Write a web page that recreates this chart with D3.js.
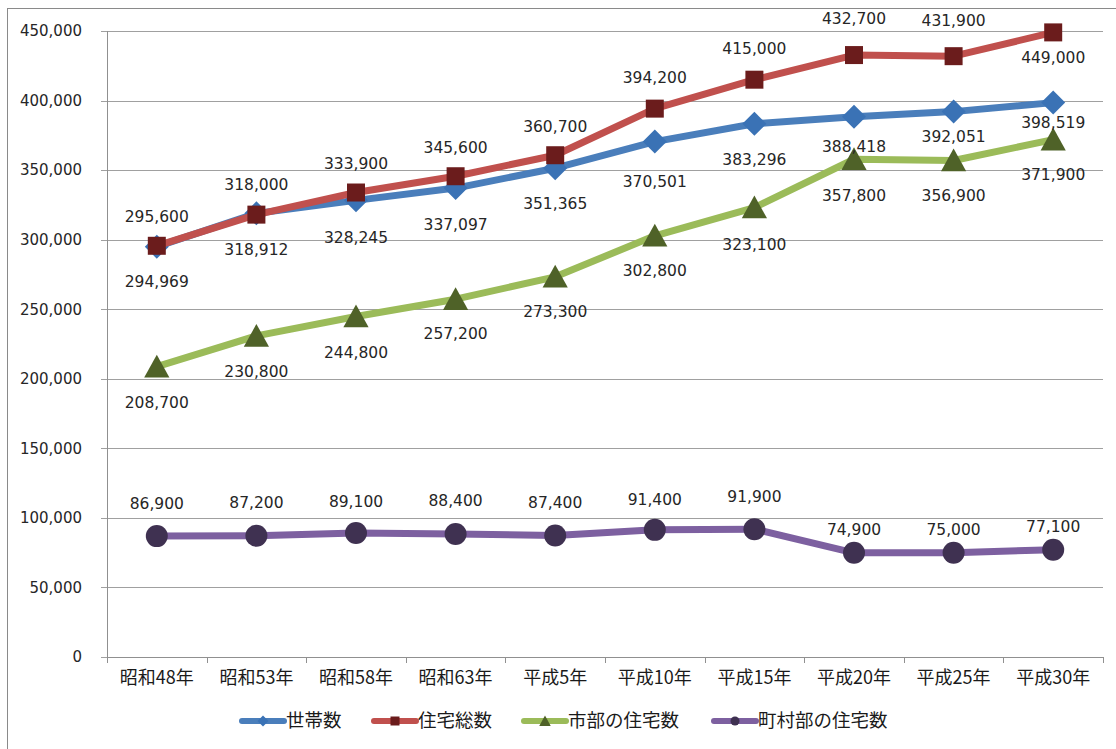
<!DOCTYPE html>
<html><head><meta charset="utf-8">
<script src="https://cdn.jsdelivr.net/npm/d3@7"></script>
<style>
html,body{margin:0;padding:0;background:#fff;}
svg{display:block;}
</style></head>
<body>
<svg id="chart" width="1116" height="749"></svg>
<script>
const categories = ["昭和48年","昭和53年","昭和58年","昭和63年","平成5年","平成10年","平成15年","平成20年","平成25年","平成30年"];
const households = [294969,318912,328245,337097,351365,370501,383296,388418,392051,398519];
const totalHousing = [295600,318000,333900,345600,360700,394200,415000,432700,431900,449000];
const cityHousing = [208700,230800,244800,257200,273300,302800,323100,357800,356900,371900];
const townHousing = [86900,87200,89100,88400,87400,91400,91900,74900,75000,77100];
const seriesNames = ["世帯数","住宅総数","市部の住宅数","町村部の住宅数"];
const yTicks = [0,50000,100000,150000,200000,250000,300000,350000,400000,450000];

// label vertical offsets (px, relative to point) — styling only
const labelOffsets = [
  [35,36,37,37,35,40,36,30,25,20],
  [-29,-30,-29,-29,-29,-31,-31,-36,-36,25],
  [36,36,36,34,35,35,37,36,35,35],
  [-33,-33,-31,-33,-33,-30,-33,-23,-23,-23]
];

const svg = d3.select("#chart");
const pLeft = 107, pRight = 1103, pTop = 31, pBottom = 657;
const x = d3.scaleBand().domain(categories).range([pLeft, pRight]);
const y = d3.scaleLinear().domain([0, 450000]).range([pBottom, pTop]);
const cx = c => x(c) + x.bandwidth()/2;

// frame
svg.append("rect").attr("x",7.5).attr("y",8.5).attr("width",1120).attr("height",760)
  .attr("fill","none").attr("stroke","#8a8a8a").attr("stroke-width",1);

// gridlines + y axis
const yAxis = d3.axisLeft(y).tickValues(yTicks).tickSize(pRight - pLeft + 6)
  .tickFormat(d => d3.format(",")(d));
const gy = svg.append("g").attr("transform",`translate(${pRight},0)`).call(yAxis);
gy.select(".domain").remove();
gy.selectAll(".tick line").attr("stroke","#a0a0a0").attr("stroke-width",1)
  .attr("shape-rendering","crispEdges");
gy.selectAll(".tick text").attr("x", -(pRight-pLeft) - 25)
  .attr("font-family","'DejaVu Sans', Verdana, sans-serif").attr("font-size","15px").attr("fill","#262626");

// y axis line
svg.append("line").attr("x1",pLeft+0.5).attr("x2",pLeft+0.5).attr("y1",pTop).attr("y2",pBottom)
  .attr("stroke","#909090").attr("stroke-width",1).attr("shape-rendering","crispEdges");

// x axis
const xAxis = d3.axisBottom(x).tickSize(0).tickPadding(18);
const gx = svg.append("g").attr("transform",`translate(0,${pBottom})`).call(xAxis);
gx.select(".domain").attr("stroke","#909090").attr("shape-rendering","crispEdges");
gx.selectAll(".tick text").attr("font-family","'Noto Sans CJK JP', sans-serif")
  .attr("font-size","18px").attr("fill","#1a1a1a").attr("dy","0.5em");
// boundary ticks
const bounds = categories.map(c => x(c)).concat([pRight]);
svg.append("g").selectAll("line").data(bounds).join("line")
  .attr("x1",d=>Math.round(d)+0.5).attr("x2",d=>Math.round(d)+0.5)
  .attr("y1",pBottom).attr("y2",pBottom+6)
  .attr("stroke","#909090").attr("stroke-width",1);

const series = [
  {name: seriesNames[0], values: households, line:"#4a7ebb", mark:"#3a72b5", shape:"diamond"},
  {name: seriesNames[1], values: totalHousing, line:"#c0504d", mark:"#6b1c1c", shape:"square"},
  {name: seriesNames[2], values: cityHousing, line:"#9bbb59", mark:"#4f6228", shape:"triangle"},
  {name: seriesNames[3], values: townHousing, line:"#7d60a0", mark:"#3f3151", shape:"circle"}
];

function markerPath(shape, s) {
  if (shape === "diamond") return `M0,${-s}L${s},0L0,${s}L${-s},0Z`;
  if (shape === "square") return `M${-s},${-s}H${s}V${s}H${-s}Z`;
  if (shape === "triangle") return `M0,${-s*1.0}L${s*1.05},${s*0.9}L${-s*1.05},${s*0.9}Z`;
  return null;
}
const markSize = {diamond:12, square:9, triangle:12, circle:11};

const lineGen = d3.line().x((d,i)=>cx(categories[i])).y(d=>y(d));

series.forEach((s, si) => {
  const g = svg.append("g");
  g.append("path").attr("d", lineGen(s.values)).attr("fill","none")
    .attr("stroke", s.line).attr("stroke-width",7).attr("stroke-linejoin","round");
  const pts = g.selectAll(".m").data(s.values).join(s.shape==="circle"?"circle":"path");
  if (s.shape === "circle") {
    pts.attr("cx",(d,i)=>cx(categories[i])).attr("cy",d=>y(d)).attr("r",markSize.circle)
      .attr("fill", s.mark);
  } else {
    pts.attr("transform",(d,i)=>`translate(${cx(categories[i])},${y(d)})`)
      .attr("d", markerPath(s.shape, markSize[s.shape])).attr("fill", s.mark);
  }
});

// data labels
series.forEach((s, si) => {
  svg.append("g").selectAll("text").data(s.values).join("text")
    .attr("x",(d,i)=>cx(categories[i]))
    .attr("y",(d,i)=>y(d) + labelOffsets[si][i])
    .attr("dy","0.35em").attr("text-anchor","middle")
    .attr("font-family","'DejaVu Sans', Verdana, sans-serif").attr("font-size","15.5px")
    .attr("fill","#262626").text(d=>d3.format(",")(d));
});

// legend
const legendX = [240, 372, 522, 712];
const legendY = 721;
series.forEach((s, si) => {
  const g = svg.append("g").attr("transform",`translate(${legendX[si]},${legendY})`);
  g.append("line").attr("x1",2).attr("x2",44).attr("y1",0).attr("y2",0)
    .attr("stroke", s.line).attr("stroke-width",6).attr("stroke-linecap","round");
  if (s.shape === "circle") {
    g.append("circle").attr("cx",23).attr("cy",0).attr("r",4.5).attr("fill",s.mark);
  } else {
    g.append("path").attr("transform","translate(23,0)")
      .attr("d", markerPath(s.shape, s.shape==="square"?4.5:5.5)).attr("fill",s.mark);
  }
  g.append("text").attr("x",46).attr("y",0).attr("dy","0.35em")
    .attr("font-family","'Noto Sans CJK JP', sans-serif").attr("font-size","18.5px")
    .attr("fill","#1a1a1a").text(s.name);
});
</script>
</body></html>
